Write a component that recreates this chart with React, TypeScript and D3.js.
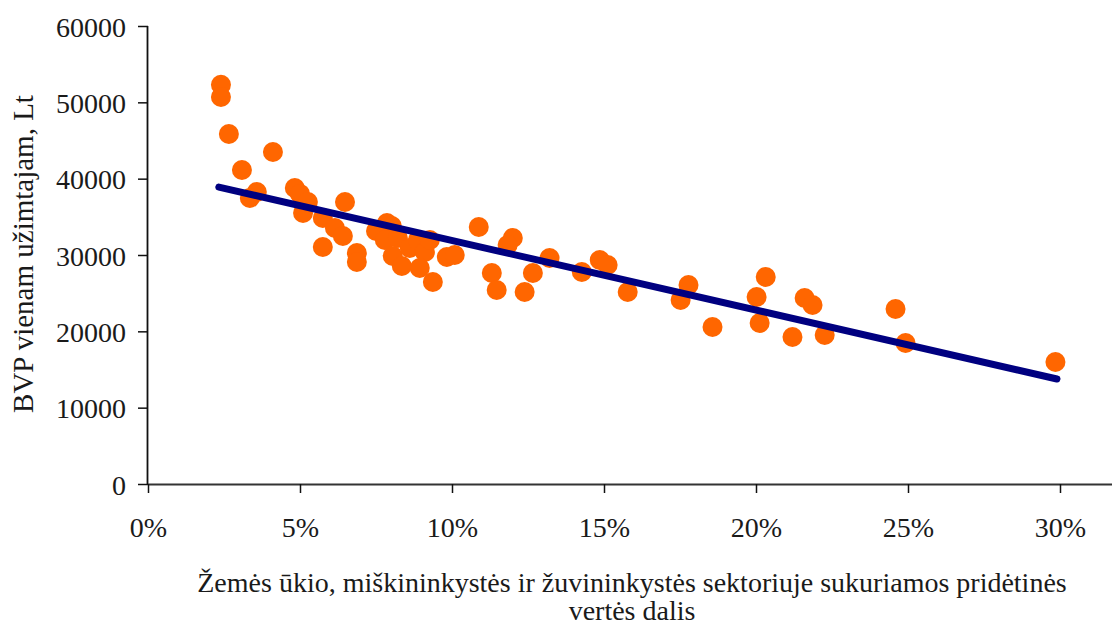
import React, { useEffect, useRef } from "react";
import * as d3 from "d3";

// share of agriculture, forestry & fishery in value added (%)
const sharePct = [
  2.40, 2.40, 2.66, 4.11, 3.09, 3.58, 3.35, 4.83, 5.00, 5.26,
  5.10, 5.75, 6.48, 6.15, 6.41, 5.75, 6.87, 6.87, 7.86, 7.50,
  8.02, 7.79, 8.22, 8.05, 8.35, 8.61, 8.88, 9.11, 8.94, 9.27,
  9.37, 9.83, 10.09, 10.88, 12.00, 11.83, 11.31, 11.47, 12.39, 12.66,
  13.21, 14.27, 14.86, 15.12, 15.78, 17.78, 17.52, 18.57, 20.32, 20.02,
  20.12, 21.20, 21.60, 21.86, 22.26, 24.59, 24.92, 29.85,
];
// GDP per employed person, Lt
const gdpPerEmployed = [
  52300, 50700, 45850, 43490, 41130, 38250, 37470, 38780, 38000, 36940,
  35500, 34850, 36940, 33540, 32490, 31050, 30260, 29080, 34190, 33140,
  33800, 31960, 32230, 29870, 28560, 30920, 31960, 30390, 28300, 31960,
  26460, 29740, 30000, 33670, 32230, 31310, 27640, 25410, 25150, 27640,
  29610, 27770, 29340, 28690, 25150, 26070, 24100, 20570, 27120, 24500,
  21090, 19260, 24370, 23450, 19520, 22930, 18470, 15980,
];
// linear trend end points
const trendX = [2.33, 29.9];
const trendY = [38900, 13760];

const yTicks = [0, 10000, 20000, 30000, 40000, 50000, 60000];
const xTicks = [0, 5, 10, 15, 20, 25, 30];
const yTitle = "BVP vienam užimtajam, Lt";
const xTitle1 = "Žemės ūkio, miškininkystės ir žuvininkystės sektoriuje sukuriamos pridėtinės";
const xTitle2 = "vertės dalis";

const FONT = "'Liberation Serif', 'Times New Roman', serif";

export default function App() {
  const ref = useRef<SVGSVGElement>(null);

  useEffect(() => {
    const svg = d3.select(ref.current);
    svg.selectAll("*").remove();

    const x = d3.scaleLinear().domain([0, 30]).range([148, 1060]);
    const y = d3.scaleLinear().domain([0, 60000]).range([484, 26]);

    // axes
    const yAxis = svg
      .append("g")
      .attr("transform", `translate(${x(0)},0)`)
      .call(
        d3
          .axisLeft(y)
          .tickValues(yTicks)
          .tickSize(10)
          .tickPadding(12)
          .tickFormat((d) => String(d))
      );
    yAxis.select(".domain").attr("d", `M-0.5,${y(60000)}V${y(0)}`).attr("stroke", "#111").attr("stroke-width", 1.8);
    yAxis.selectAll(".tick line").attr("stroke", "#111").attr("stroke-width", 1.5);
    yAxis
      .selectAll(".tick text")
      .attr("font-family", FONT)
      .attr("font-size", 28)
      .attr("fill", "#1a1a1a")
      .attr("dy", "0.36em");

    const xAxis = svg
      .append("g")
      .attr("transform", `translate(0,${y(0)})`)
      .call(
        d3
          .axisBottom(x)
          .tickValues(xTicks)
          .tickSize(9)
          .tickPadding(24)
          .tickFormat((d) => `${d}%`)
      );
    xAxis.select(".domain").attr("d", `M${x(0)},0.5H1112`).attr("stroke", "#333").attr("stroke-width", 2.2);
    xAxis.selectAll(".tick line").attr("stroke", "#111").attr("stroke-width", 1.5);
    xAxis
      .selectAll(".tick text")
      .attr("font-family", FONT)
      .attr("font-size", 28)
      .attr("fill", "#1a1a1a");

    // points
    const pts = sharePct.map((v, i) => [v, gdpPerEmployed[i]] as [number, number]);
    svg
      .append("g")
      .selectAll("circle")
      .data(pts)
      .join("circle")
      .attr("cx", (d) => x(d[0]))
      .attr("cy", (d) => y(d[1]))
      .attr("r", 10)
      .attr("fill", "#FF6600");

    // trend line
    const line = d3
      .line<number>()
      .x((d, i) => x(trendX[i]))
      .y((d, i) => y(trendY[i]));
    svg
      .append("path")
      .attr("d", line(trendX) as string)
      .attr("fill", "none")
      .attr("stroke", "#000080")
      .attr("stroke-width", 7)
      .attr("stroke-linecap", "round");

    // titles
    svg
      .append("text")
      .attr("transform", `translate(33,${254}) rotate(-90)`)
      .attr("text-anchor", "middle")
      .attr("font-family", FONT)
      .attr("font-size", 29)
      .attr("fill", "#1a1a1a")
      .text(yTitle);

    svg
      .append("text")
      .attr("x", 632)
      .attr("y", 592)
      .attr("text-anchor", "middle")
      .attr("font-family", FONT)
      .attr("font-size", 28)
      .attr("fill", "#1a1a1a")
      .text(xTitle1);
    svg
      .append("text")
      .attr("x", 632)
      .attr("y", 620)
      .attr("text-anchor", "middle")
      .attr("font-family", FONT)
      .attr("font-size", 28)
      .attr("fill", "#1a1a1a")
      .text(xTitle2);
  }, []);

  return (
    <svg
      ref={ref}
      width={1116}
      height={628}
      style={{ position: "absolute", left: 0, top: 0, background: "#fff" }}
    />
  );
}
